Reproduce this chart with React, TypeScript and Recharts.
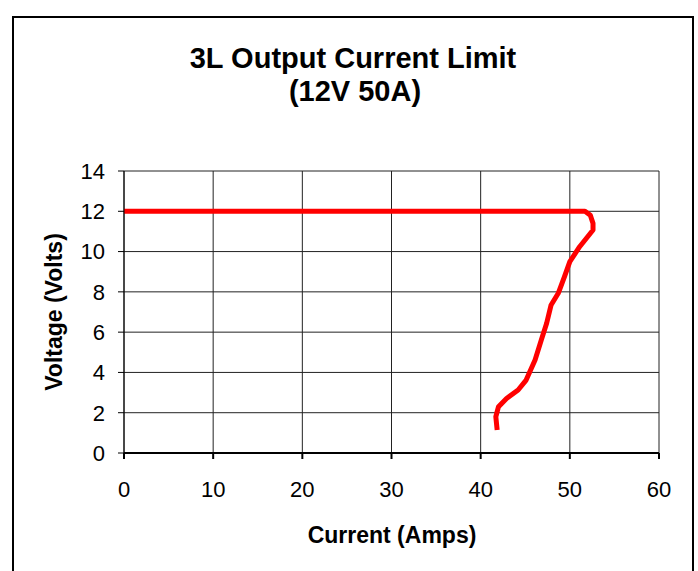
import React from 'react';
import { LineChart, Line, XAxis, YAxis, CartesianGrid } from 'recharts';

const currentAmps = [0, 10, 20, 30, 40, 50, 51.7, 52.3, 52.6, 52.6, 51.1, 50.0, 49.4, 48.7, 47.9, 47.4, 46.8, 46.1, 45.1, 44.2, 42.9, 42.0, 41.7, 41.85];
const voltageVolts = [12, 12, 12, 12, 12, 12, 12, 11.8, 11.4, 11.07, 10.24, 9.5, 8.76, 7.93, 7.35, 6.44, 5.61, 4.62, 3.62, 3.13, 2.71, 2.3, 1.8, 1.14];
const xTicks = [0, 10, 20, 30, 40, 50, 60];
const yTicks = [0, 2, 4, 6, 8, 10, 12, 14];
const titleLines = ['3L Output Current Limit', '(12V 50A)'];
const xLabel = 'Current (Amps)';
const yLabel = 'Voltage (Volts)';

const data = currentAmps.map((a, i) => ({ amps: a, volts: voltageVolts[i] }));

const FONT = '"Liberation Sans", Arial, sans-serif';

export default function App() {
  return (
    <div style={{ position: 'absolute', left: 0, top: 0, width: 698, height: 571, overflow: 'hidden', background: '#fff' }}>
      <div style={{ position: 'absolute', left: 12, top: 16, width: 682, height: 620, border: '2px solid #000', boxSizing: 'border-box' }} />
      <div style={{ position: 'absolute', left: 0, top: 0 }}>
        <LineChart width={698} height={571} data={data} margin={{ top: 171, right: 39, bottom: 78, left: 64 }}>
          <CartesianGrid stroke="#222" strokeWidth={1} />
          <XAxis
            dataKey="amps"
            type="number"
            domain={[0, 60]}
            ticks={xTicks}
            interval={0}
            height={40}
            tickSize={6}
            tickMargin={22}
            stroke="#000"
            strokeWidth={2}
            tick={{ fill: '#000', fontSize: 22, fontFamily: FONT }}
          />
          <YAxis
            dataKey="volts"
            type="number"
            domain={[0, 14]}
            ticks={yTicks}
            interval={0}
            width={60}
            tickSize={6}
            tickMargin={13}
            stroke="#000"
            tick={{ fill: '#000', fontSize: 22, fontFamily: FONT }}
          />
          <Line
            type="linear"
            dataKey="volts"
            stroke="#ff0000"
            strokeWidth={5}
            strokeLinejoin="round"
            strokeLinecap="butt"
            dot={false}
            isAnimationActive={false}
          />
        </LineChart>
      </div>
      <svg width={698} height={571} style={{ position: 'absolute', left: 0, top: 0, pointerEvents: 'none' }}>
        <text x={353} y={68} textAnchor="middle" fontFamily={FONT} fontWeight="bold" fontSize={29} fill="#000">{titleLines[0]}</text>
        <text x={355} y={101} textAnchor="middle" fontFamily={FONT} fontWeight="bold" fontSize={29} fill="#000">{titleLines[1]}</text>
        <text x={392} y={543} textAnchor="middle" fontFamily={FONT} fontWeight="bold" fontSize={23} fill="#000">{xLabel}</text>
        <text x={62} y={312} textAnchor="middle" fontFamily={FONT} fontWeight="bold" fontSize={23} fill="#000" transform="rotate(-90, 62, 312)">{yLabel}</text>
      </svg>
    </div>
  );
}
